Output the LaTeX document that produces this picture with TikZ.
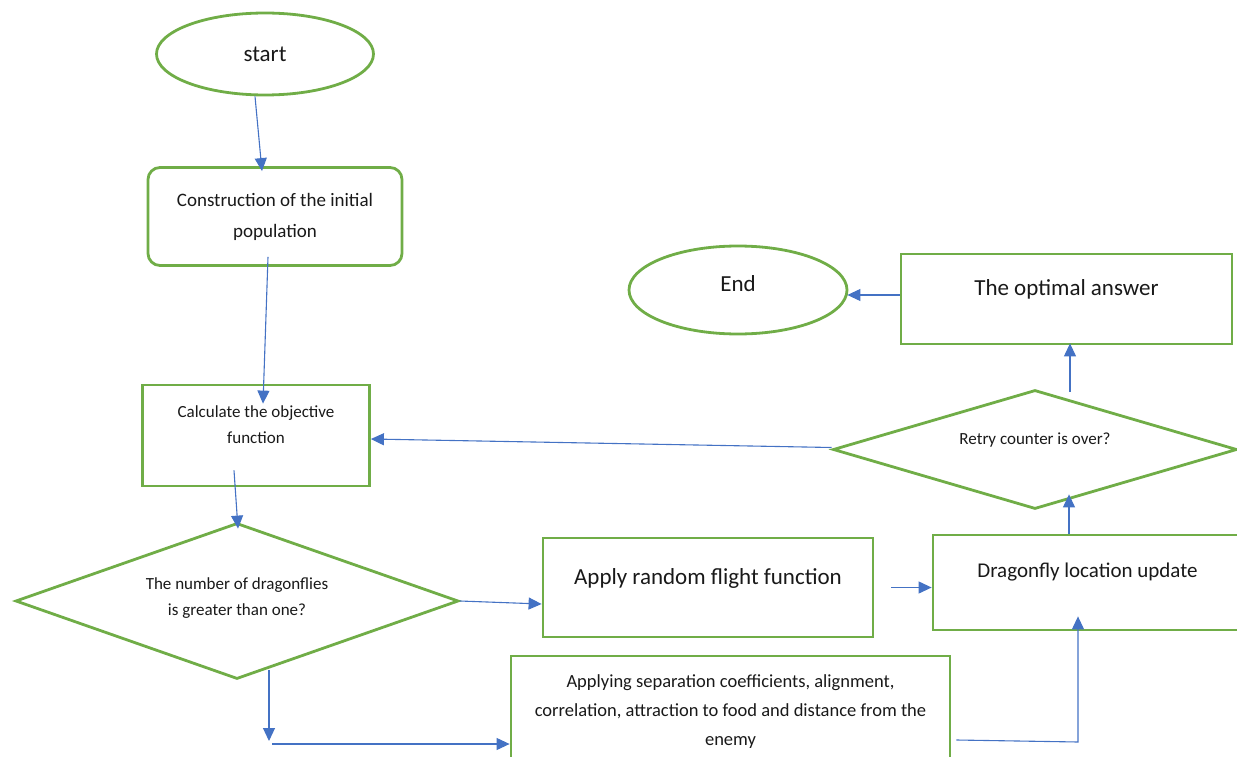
\documentclass[tikz,border=0pt]{standalone}
\usepackage{fontspec}
\setmainfont{Carlito}
\usetikzlibrary{shapes.geometric,arrows.meta,calc}
\definecolor{boxgreen}{RGB}{112,173,71}
\definecolor{flowblue}{RGB}{68,114,196}

\begin{document}
\begin{tikzpicture}[x=1pt,y=-1pt,
  every node/.style={text=black!90},
  outline/.style={draw=boxgreen, line width=2.8pt, inner sep=0pt},
  terminal/.style={outline, ellipse},
  procbox/.style={outline, rectangle},
  decision/.style={outline, diamond},
  caption/.style={align=center, inner sep=0pt},
  flow/.style={draw=flowblue, line width=1.1pt, -{Triangle[length=13pt,width=12pt]}}]
  % Dragonfly algorithm flowchart, laid out on the 1237 x 757 pixel grid (y downward).

  \useasboundingbox (0,0) rectangle (1237,757);
  \clip (0,0) rectangle (1237,757);

  % --- terminals ---
  \node[terminal, minimum width=217, minimum height=82,
        font=\fontsize{23}{28}\selectfont] (start) at (265,54) {start};
  \node[terminal, minimum width=218, minimum height=88] (end) at (738,290) {};

  % --- processes ---
  \node[procbox, rounded corners=12pt, minimum width=254, minimum height=98, align=center,
        font=\fontsize{19}{31}\selectfont] (init) at (275,216.5)
    {Construction of the initial\\population};
  \node[procbox, minimum width=227, minimum height=101] (objective) at (256,435.5) {};
  \node[procbox, minimum width=330, minimum height=99] (flight) at (708,587.5) {};
  \node[procbox, minimum width=309, minimum height=95] (update) at (1087.5,582.5) {};
  \node[procbox, minimum width=331, minimum height=90] (optimal) at (1066.5,299) {};
  \node[procbox, minimum width=439, minimum height=120] (coeffs) at (730.5,716) {};

  % --- decisions ---
  \node[decision, minimum width=443, minimum height=156] (count) at (237,601) {};
  \node[decision, minimum width=404, minimum height=119] (retry) at (1035,449.5) {};

  % --- texts (set a little above the centres) ---
  \node[caption, font=\fontsize{23}{28}\selectfont] (endtext) at ($(end)+(0,-6)$) {End};
  \node[caption, font=\fontsize{17}{26}\selectfont] (objectivetext) at ($(objective)+(0,-10.5)$)
    {Calculate the objective\\function};
  \node[caption, font=\fontsize{23}{28}\selectfont] (flighttext) at ($(flight)+(0,-9.5)$)
    {Apply random flight function};
  \node[caption, font=\fontsize{21}{26}\selectfont] (updatetext) at ($(update)+(0,-10.5)$)
    {Dragonfly location update};
  \node[caption, font=\fontsize{23}{28}\selectfont] (optimaltext) at ($(optimal)+(0,-10)$)
    {The optimal answer};
  \node[caption, font=\fontsize{18.5}{29}\selectfont] (coeffstext) at ($(coeffs)+(0,-4)$)
    {Applying separation coefficients, alignment,\\
     correlation, attraction to food and distance from the\\
     enemy};
  \node[caption, font=\fontsize{17}{26}\selectfont] (counttext) at ($(count)+(0,-3)$)
    {The number of dragonflies\\is greater than one?};
  \node[caption, font=\fontsize{17}{26}\selectfont] (retrytext) at ($(retry)+(0,-9.5)$)
    {Retry counter is over?};

  % --- bends ---
  \coordinate (bendA) at (269,744);
  \coordinate (bendB) at (1078,742);

  % --- connectors ---
  \draw[flow] ($(start.south)+(-10,0)$) -- ($(init.north)+(-13,5)$);
  \draw[flow] ($(init.south)+(-7,-10)$) -- ($(objective.north)+(7,20)$);
  \draw[flow] ($(objective.south)+(-22,-17)$) -- ($(count.north)+(1,7)$);
  \draw[flow] (count.east) -- ($(flight.west)+(0,16.5)$);
  \draw[flow] ($(count.south)+(32,-10)$) -- ($(bendA)+(0,-3)$);
  \draw[flow] ($(bendA)+(3,0)$) -- (coeffs.west |- bendA);
  \draw[flow] ($(flight.east)+(17,0)$) -- (update.west |- flight.east);
  \draw[flow] ($(coeffs.east)+(5,24)$) -- (bendB) -- ($(bendB |- update.south)+(0,-15)$);
  \draw[flow] ($(update.north)+(-18.5,0)$) -- ($(retry.south)+(34,-16)$);
  \draw[flow] ($(retry.north)+(35,3)$) -- ($(optimal.south)+(3.5,-2)$);
  \draw[flow] ($(optimal.west)+(0,-4)$) -- ($(end.east)+(-1,5)$);
  \draw[flow] ($(retry.west)+(0,-2)$) -- ($(objective.east)+(0,3.5)$);
\end{tikzpicture}
\end{document}
